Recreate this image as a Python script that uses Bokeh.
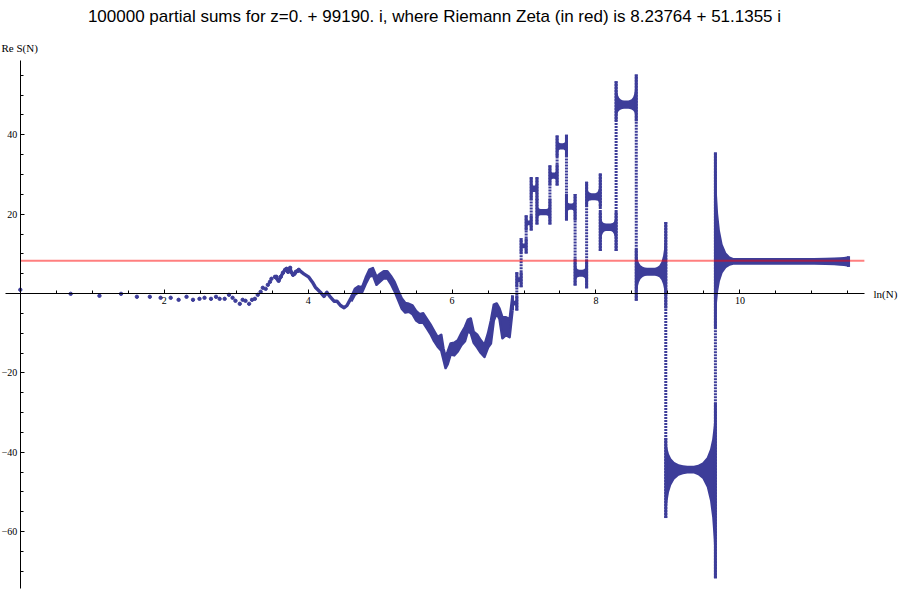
import numpy as np
from bokeh.plotting import figure
from bokeh.models import FixedTicker, Label
from bokeh.embed import file_html
from bokeh.resources import INLINE

BLUE = "#3d3d99"

# ---------------- data ----------------
TITLE = "100000 partial sums for z=0. + 99190. i, where Riemann Zeta (in red) is 8.23764 + 51.1355 i"
ZETA_RE = 8.23764
RED_X = [0.0, 11.73]

# first partial sums (separate dots): x = ln N, y = Re S(N)
early_x = [0.0, 0.70, 1.10, 1.40, 1.62, 1.80, 1.95, 2.09, 2.20, 2.31, 2.40, 2.49, 2.56, 2.65,
           2.72, 2.77, 2.84, 2.90, 2.95, 2.99, 3.05, 3.09, 3.13, 3.18, 3.22, 3.26, 3.30, 3.34,
           3.37, 3.41, 3.44, 3.47, 3.49, 3.54, 3.56, 3.59, 3.62, 3.65, 3.68, 3.70, 3.72, 3.75,
           3.76, 3.79, 3.81, 3.83, 3.86, 3.87]
early_y = [0.95, -0.08, -0.58, -0.08, -0.83, -0.83, -1.08, -1.08, -1.59, -0.83, -1.59, -1.34,
           -1.08, -1.34, -0.83, -1.34, -1.34, -0.33, -1.08, -1.84, -2.6, -1.59, -1.84, -2.6,
           -1.59, -1.34, -0.33, 0.43, 1.44, 1.18, 2.19, 2.95, 3.71, 4.21, 4.21, 3.2, 4.21, 5.22,
           5.97, 6.23, 5.47, 6.48, 5.47, 4.71, 4.97, 5.47, 5.72, 5.97]

# beaded path of the partial sums
trail_x = [3.54, 3.59, 3.62, 3.65, 3.68, 3.70, 3.72, 3.75, 3.76, 3.79, 3.81, 3.83, 3.87, 3.94,
           4.01, 4.06, 4.10, 4.17, 4.22, 4.26, 4.31, 4.36, 4.40, 4.45, 4.50, 4.54, 4.59, 4.63]
trail_y = [4.21, 3.2, 4.21, 5.22, 5.97, 6.23, 5.47, 6.48, 5.47, 4.71, 4.97, 5.47, 5.97, 4.97,
           4.11, 2.85, 1.59, 0.33, -0.76, 0.33, -0.93, -1.94, -1.94, -3.02, -3.6, -3.02, -1.34,
           -0.08]

# dense wandering ribbon: lower / upper extent of the sums
rib_x = [4.60, 4.65, 4.70, 4.75, 4.80, 4.85, 4.90, 4.95, 5.00, 5.05, 5.10, 5.15, 5.20, 5.25,
         5.30, 5.35, 5.40, 5.45, 5.50, 5.55, 5.60, 5.65, 5.70, 5.75, 5.80, 5.85, 5.88, 5.91,
         5.94, 5.98, 6.03, 6.08, 6.13, 6.18, 6.22, 6.26, 6.30, 6.35, 6.40, 6.45, 6.50, 6.54,
         6.58, 6.62, 6.66, 6.70, 6.75, 6.80, 6.84]
rib_lo = [-2.0, -0.3, 0.3, 0.3, 2.4, 4.2, 4.6, 2.2, 3.0, 3.8, 3.8, 2.4, 0.6, -1.6, -3.8, -4.8,
          -4.6, -5.2, -6.8, -7.4, -7.4, -8.8, -10.2, -12.0, -13.4, -14.4, -16.6, -18.8, -17.8,
          -15.4, -15.6, -14.6, -13.0, -12.0, -9.5, -10.0, -12.4, -13.6, -15.0, -16.0, -13.6,
          -12.6, -6.8, -5.0, -6.5, -11.3, -10.5, -11.0, -4.3]
rib_hi = [-0.8, 1.2, 1.8, 1.6, 4.0, 6.0, 6.4, 4.2, 5.0, 5.6, 5.6, 4.4, 3.0, 0.8, -1.2, -2.4,
          -2.6, -3.0, -4.4, -5.2, -5.0, -6.4, -7.8, -9.4, -11.0, -10.4, -13.8, -16.0, -14.6,
          -12.6, -12.4, -11.8, -10.0, -8.4, -6.6, -6.3, -9.6, -10.4, -11.8, -13.0, -10.0, -6.8,
          -2.8, -2.5, -3.8, -6.0, -6.0, -6.5, -0.5]

# plateaus (oscillating bands between jumps)
plat_x0 = [6.84, 6.90, 6.96, 7.03, 7.10, 7.18, 7.36, 7.46, 7.59, 7.71, 7.87, 8.06, 8.28, 8.56, 8.97, 9.66]
plat_x1 = [6.90, 6.96, 7.03, 7.10, 7.18, 7.36, 7.46, 7.59, 7.71, 7.87, 8.06, 8.28, 8.56, 8.97, 9.66, 11.51]
plat_mid = [-2.4, 3.5, 12.0, 17.8, 26.4, 20.5, 29.7, 37.1, 21.9, 5.1, 24.4, 16.7, 47.6, 5.5, -44.4, 8.1]
plat_half = [0.6, 0.6, 0.6, 0.6, 0.8, 0.8, 0.8, 0.8, 0.8, 0.9, 0.9, 0.95, 1.05, 1.0, 1.0, 0.85]
left_lo = [-4.3, 1.6, 10.1, 15.9, 23.5, 17.4, 27.2, 34.4, 18.4, 2.0, 21.8, 10.7, 43.4, -1.8, -56.6, -8.8]
left_hi = [-0.5, 5.4, 13.9, 19.7, 29.4, 23.9, 32.3, 39.8, 25.1, 8.8, 28.2, 20.6, 53.5, 11.3, -36.4, 35.6]
right_lo = [-4.3, 1.6, 10.1, 15.9, 23.5, 17.4, 27.2, 34.4, 18.4, 1.3, 21.8, 10.7, 43.4, -3.8, -71.8, 6.7]
right_hi = [-0.5, 5.4, 13.9, 19.7, 29.4, 23.9, 32.6, 40.0, 25.1, 8.4, 30.3, 20.6, 55.2, 18.0, -27.5, 9.4]
taper_l = [0.025, 0.025, 0.025, 0.03, 0.035, 0.05, 0.04, 0.05, 0.045, 0.06, 0.07, 0.08, 0.11, 0.15, 0.3, 0.25]
taper_r = [0.025, 0.025, 0.025, 0.03, 0.035, 0.05, 0.04, 0.05, 0.045, 0.06, 0.07, 0.08, 0.11, 0.15, 0.3, 0.8]

x_ticks = [2, 4, 6, 8, 10]
x_minor = [0.5, 1, 1.5, 2.5, 3, 3.5, 4.5, 5, 5.5, 6.5, 7, 7.5, 8.5, 9, 9.5, 10.5, 11, 11.5]
y_ticks = [-60, -40, -20, 20, 40]
y_minor = [-70, -65, -55, -50, -45, -35, -30, -25, -15, -10, -5, 5, 10, 15, 25, 30, 35, 45, 50, 55]
y_labels = {-60: "\u221260", -40: "\u221240", -20: "\u221220", 20: "20", 40: "40"}

# flare profile (shape of the band opening near a jump)
FL_U = [0, 0.03, 0.08, 0.15, 0.25, 0.4, 0.6, 0.8, 1.0]
FL_V = [1, 0.85, 0.62, 0.42, 0.26, 0.13, 0.05, 0.015, 0]

# ---------------- figure ----------------
p = figure(width=900, height=593, x_range=(-0.2752, 12.232), y_range=(-75.62, 73.86),
           output_backend="svg", toolbar_location=None, min_border=0)
p.min_border_left = p.min_border_right = p.min_border_top = p.min_border_bottom = 0
p.outline_line_color = None
p.grid.visible = False
p.background_fill_color = "white"

for ax, tk, mn, bnd in ((p.xaxis, x_ticks, x_minor, (-0.2, 11.73)),
                        (p.yaxis, y_ticks, y_minor, (-74.4, 58.7))):
    ax.fixed_location = 0
    ax.ticker = FixedTicker(ticks=tk, minor_ticks=mn)
    ax.bounds = bnd
    ax.axis_line_color = "black"
    ax.axis_line_width = 1
    ax.major_tick_line_color = "black"
    ax.minor_tick_line_color = "black"
    ax.major_tick_in = 4
    ax.major_tick_out = 0
    ax.minor_tick_in = 3
    ax.minor_tick_out = 0
    ax.major_label_text_font = "Liberation Serif"
    ax.major_label_text_font_size = "10px"
    ax.major_label_text_color = "black"
    ax.major_label_standoff = 3
p.yaxis.major_label_overrides = y_labels

# early dots and beaded path
p.scatter(early_x, early_y, size=3.4, color=BLUE)
p.line(trail_x, trail_y, line_width=3.4, color=BLUE, line_join="round", line_cap="round")
p.varea(x=rib_x, y1=rib_lo, y2=rib_hi, color=BLUE)
p.line(rib_x, rib_lo, line_width=2.5, color=BLUE, line_join="round")
p.line(rib_x, rib_hi, line_width=2.5, color=BLUE, line_join="round")

# plateau bands
U = np.array(FL_U)
for i in range(len(plat_x0)):
    x0, x1, c, w = plat_x0[i], plat_x1[i], plat_mid[i], plat_half[i]
    tl, tr = taper_l[i], taper_r[i]
    xs = np.array(sorted(set([x0 + u * tl for u in FL_U] + [x1 - u * tr for u in FL_U]
                             + [(x0 + x1) / 2])))
    xs = xs[(xs >= x0) & (xs <= x1)]
    vl = np.interp((xs - x0) / tl, U, FL_V, right=0)
    vr = np.interp((x1 - xs) / tr, U, FL_V, right=0)
    up = c + w + np.maximum(vl * (left_hi[i] - c - w), vr * (right_hi[i] - c - w))
    lo = c - w - np.maximum(vl * (c - w - left_lo[i]), vr * (c - w - right_lo[i]))
    p.varea(x=xs, y1=lo, y2=up, color=BLUE)

# solid flare edges
p.segment(x0=plat_x0, y0=left_lo, x1=plat_x0, y1=left_hi, line_width=3, color=BLUE)
p.segment(x0=plat_x1, y0=right_lo, x1=plat_x1, y1=right_hi, line_width=3, color=BLUE)

# dotted jumps between consecutive plateaus
jx, jlo, jhi = [], [], []
for i in range(len(plat_x0) - 1):
    jx.append(plat_x1[i])
    jlo.append(min(right_lo[i], left_lo[i + 1]))
    jhi.append(max(right_hi[i], left_hi[i + 1]))
p.segment(x0=jx, y0=jlo, x1=jx, y1=jhi, line_width=3, line_dash="2 1", color=BLUE)

# Riemann zeta real part
p.line(RED_X, [ZETA_RE, ZETA_RE], line_width=2, color="red", alpha=0.5)

# texts
p.add_layout(Label(x=5.756, y=69.83, text=TITLE, text_align="center", text_baseline="alphabetic",
                   text_font="Liberation Sans", text_font_size="17px", text_color="black"))
p.add_layout(Label(x=-0.261, y=61.9, text="Re S(N)", text_align="left", text_baseline="middle",
                   text_font="Liberation Serif", text_font_size="11px", text_color="black"))
p.add_layout(Label(x=11.857, y=0, text="ln(N)", text_align="left", text_baseline="middle",
                   text_font="Liberation Serif", text_font_size="11px", text_color="black"))

open("out.html", "w").write(file_html(p, INLINE))
